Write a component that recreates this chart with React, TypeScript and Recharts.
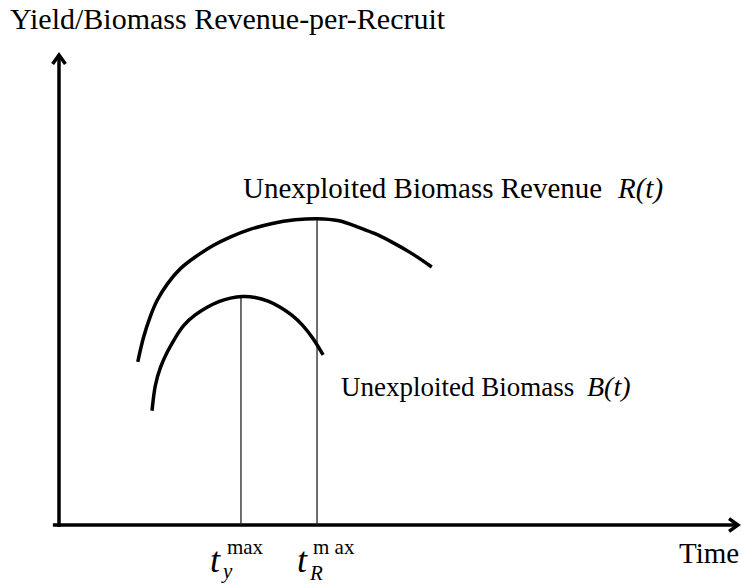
import { LineChart, Line, XAxis, YAxis, ReferenceLine } from "recharts";

// outer arc: unexploited biomass revenue R(t)
const revenueTime = [
  1.16, 1.24, 1.34, 1.44, 1.59, 1.78, 2.02, 2.27, 2.52, 2.77, 3.15, 3.48, 3.8, 4.14, 4.39, 4.65, 4.88, 5.17, 5.49,
];
const revenueValue = [
  3.47, 4.0, 4.43, 4.79, 5.13, 5.47, 5.72, 5.96, 6.13, 6.28, 6.43, 6.5, 6.53, 6.49, 6.34, 6.21, 6.04, 5.81, 5.49,
];

// inner arc: unexploited biomass B(t)
const biomassTime = [
  1.37, 1.41, 1.49, 1.59, 1.71, 1.83, 2.0, 2.18, 2.37, 2.52, 2.7, 2.89, 3.08, 3.26, 3.43, 3.59, 3.74, 3.89,
];
const biomassValue = [
  2.43, 2.98, 3.36, 3.68, 3.98, 4.26, 4.47, 4.64, 4.77, 4.83, 4.87, 4.85, 4.77, 4.64, 4.47, 4.26, 3.98, 3.62,
];

const tYieldMax = 2.68;
const tRevenueMax = 3.8;

const FONT = "Liberation Serif";

const revenueData = revenueTime.map((t, i) => ({ t, v: revenueValue[i] }));
const biomassData = biomassTime.map((t, i) => ({ t, v: biomassValue[i] }));

const peakOf = (data: { t: number; v: number }[], t: number) =>
  data.reduce((best, d) => (Math.abs(d.t - t) < Math.abs(best.t - t) ? d : best)).v;

const ArrowLine = (p: any) => {
  const { x1, y1, x2, y2 } = p;
  const ang = Math.atan2(y2 - y1, x2 - x1);
  const len = 11;
  const spread = 0.62;
  const ax = x2 - len * Math.cos(ang - spread);
  const ay = y2 - len * Math.sin(ang - spread);
  const bx = x2 - len * Math.cos(ang + spread);
  const by = y2 - len * Math.sin(ang + spread);
  return (
    <g stroke="#000" strokeWidth={3.5} fill="none">
      <line x1={x1} y1={y1} x2={x2} y2={y2} />
      <polyline points={`${ax},${ay} ${x2},${y2} ${bx},${by}`} strokeLinejoin="miter" />
    </g>
  );
};

const TickLabel = ({ viewBox, sub, sup, tDx, supDx, subDx, subDy }: any) => {
  const x = viewBox.x;
  const bottom = viewBox.y + viewBox.height;
  return (
    <g>
      <text x={x + tDx} y={bottom + 47} fontFamily={FONT} fontSize={36} fontStyle="italic" fill="#000">t</text>
      <text x={x + supDx} y={bottom + 29} fontFamily={FONT} fontSize={21} fill="#000" xmlSpace="preserve">{sup}</text>
      <text x={x + subDx} y={bottom + subDy} fontFamily={FONT} fontSize={21} fontStyle="italic" fill="#000">{sub}</text>
    </g>
  );
};

export default function App() {
  return (
    <div style={{ width: 741, height: 586, background: "#fff" }}>
      <style>{`body{margin:0}`}</style>
      <LineChart width={741} height={586} margin={{ top: 55, right: 3, bottom: 61, left: 59 }}>
        <XAxis type="number" dataKey="t" domain={[0, 10]} hide allowDataOverflow />
        <YAxis type="number" dataKey="v" domain={[0, 10]} hide allowDataOverflow />

        <ReferenceLine
          segment={[{ x: 0, y: -0.04 }, { x: 0, y: 10 }]}
          ifOverflow="visible"
          shape={(p: any) => <ArrowLine {...p} />}
        />
        <ReferenceLine
          segment={[{ x: -0.09, y: 0 }, { x: 10, y: 0 }]}
          ifOverflow="visible"
          shape={(p: any) => <ArrowLine {...p} />}
        />

        <ReferenceLine
          segment={[{ x: tYieldMax, y: 0 }, { x: tYieldMax, y: peakOf(biomassData, tYieldMax) }]}
          stroke="#222"
          strokeWidth={1.3}
          ifOverflow="visible"
          label={(p: any) => <TickLabel {...p} sub="y" sup="max" tDx={-31} supDx={-14} subDx={-18} subDy={53} />}
        />
        <ReferenceLine
          segment={[{ x: tRevenueMax, y: 0 }, { x: tRevenueMax, y: peakOf(revenueData, tRevenueMax) }]}
          stroke="#222"
          strokeWidth={1.3}
          ifOverflow="visible"
          label={(p: any) => <TickLabel {...p} sub="R" sup="m ax" tDx={-20} supDx={-4} subDx={-7} subDy={55} />}
        />

        <Line
          data={revenueData}
          dataKey="v"
          type="basis"
          stroke="#000"
          strokeWidth={3.5}
          dot={false}
          activeDot={false}
          isAnimationActive={false}
        />
        <Line
          data={biomassData}
          dataKey="v"
          type="basis"
          stroke="#000"
          strokeWidth={3.5}
          dot={false}
          activeDot={false}
          isAnimationActive={false}
        />

        <text x={10} y={29} fontFamily={FONT} fontSize={30} fill="#000">
          Yield/Biomass Revenue-per-Recruit
        </text>
        <text x={243} y={198} fontFamily={FONT} fontSize={29} fill="#000">
          Unexploited Biomass Revenue
        </text>
        <text x={618} y={198} fontFamily={FONT} fontSize={29} fontStyle="italic" fill="#000">
          R(t)
        </text>
        <text x={341} y={396} fontFamily={FONT} fontSize={27} fill="#000">
          Unexploited Biomass
        </text>
        <text x={587} y={396} fontFamily={FONT} fontSize={28} fontStyle="italic" fill="#000">
          B(t)
        </text>
        <text x={679} y={563} fontFamily={FONT} fontSize={29} fill="#000">
          Time
        </text>
      </LineChart>
    </div>
  );
}
